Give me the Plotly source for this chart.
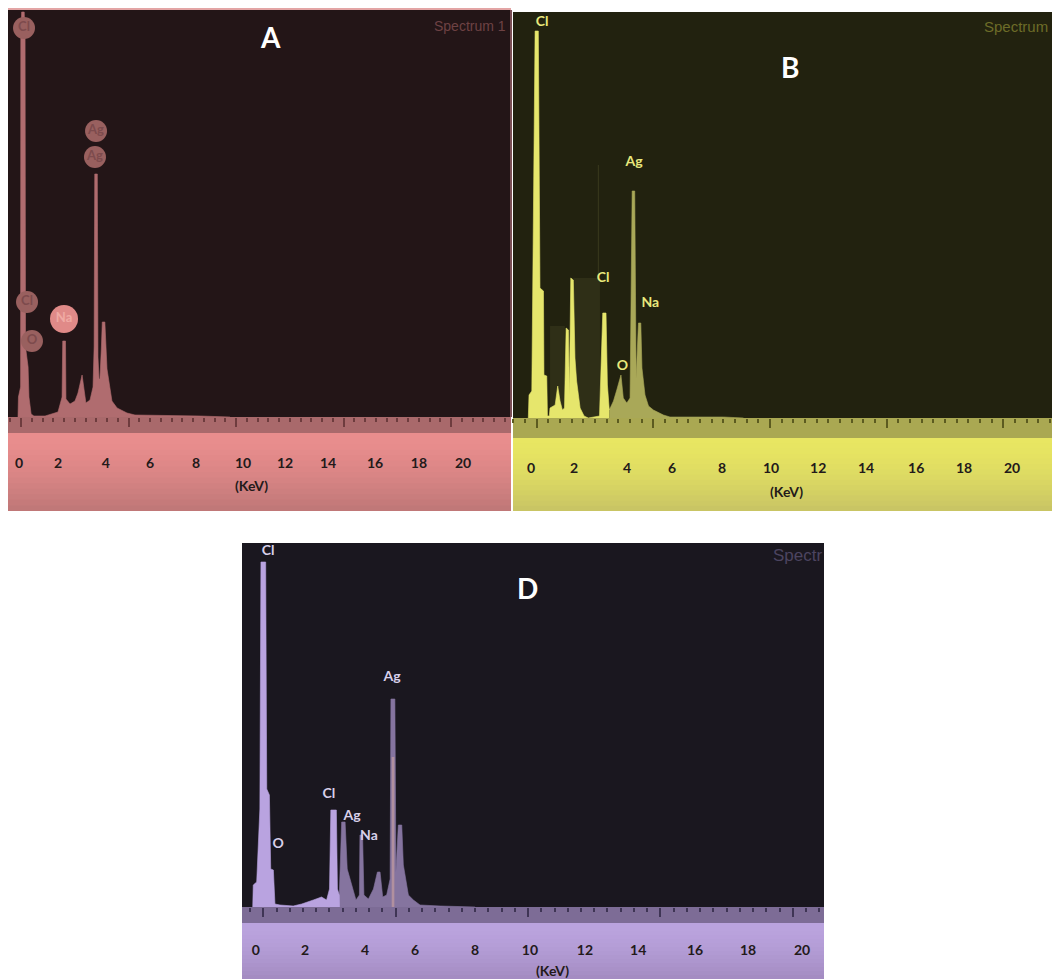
import plotly.graph_objects as go

W, H = 1052, 979

# ---------- data (x in keV, y = counts on an arbitrary scale) ----------
tick_text = ["0", "2", "4", "6", "8", "10", "12", "14", "16", "18", "20"]

a_x = [-0.14, -0.12, -0.02, -0.01, 0.03, 0.15, 0.19, 0.21, 0.33, 0.37, 0.47, 0.6, 1.12, 1.26, 1.72, 1.91,
       1.94, 2.07, 2.09, 2.28, 2.51, 2.65, 2.84, 2.98, 3.02, 3.21, 3.35, 3.40, 3.43, 3.55, 3.58, 3.63,
       3.67, 3.74, 3.78, 3.9, 4.0, 4.23, 4.47, 4.93, 5.3, 8.33, 9.72]
a_y = [0, 20, 30, 380, 405, 405, 380, 70, 50, 20, 3, 1, 1, 2, 5, 20,
       76, 76, 18, 13, 16, 24, 42, 20, 14, 17, 30, 70, 243, 243, 60, 38,
       38, 70, 95, 95, 48, 16, 9, 4, 2, 1, 0]
a_tick_pos = [-0.09, 1.72, 3.95, 6.0, 8.14, 10.33, 12.28, 14.28, 16.47, 18.51, 20.56]
a_lab_x = [0.14, 3.49, 3.44, 0.28, 0.51]
a_lab_y = [389, 286, 260, 115, 76]
a_lab_t = ["Cl", "Ag", "Ag", "Cl", "O"]
a_na_x = [2.0]
a_na_y = [98]
a_na_t = ["Na"]

b_x1 = [-0.36, -0.33, -0.21, -0.11, -0.07, 0.07, 0.14, 0.29, 0.31, 0.43, 0.46, 0.54, 0.57, 0.79, 0.9, 1.0,
        1.1, 1.19, 1.26, 1.36, 1.4, 1.46, 1.57, 1.64, 1.71, 1.86, 2.03, 2.21, 2.69, 2.83, 2.97, 3.03, 3.11]
b_y1 = [0, 23, 27, 317, 387, 387, 130, 127, 43, 42, 2, 2, 10, 13, 32, 17,
        8, 10, 90, 88, 23, 140, 138, 60, 37, 10, 2, 0, 2, 105, 105, 33, 8]
b_x2 = [3.11, 3.29, 3.43, 3.61, 3.71, 3.86, 4.0, 4.09, 4.2, 4.26, 4.36, 4.46, 4.51, 4.64, 4.79, 5.0,
        5.43, 5.71, 8.0, 8.86]
b_y2 = [8, 17, 28, 43, 20, 15, 20, 227, 227, 40, 95, 95, 50, 23, 12, 8, 3, 1, 1, 0]
b_ghost_x = [0.57, 0.57, 1.21, 1.21, 1.57, 1.57, 2.71, 2.71]
b_ghost_y = [0, 92, 92, 0, 0, 140, 140, 0]
b_faint_x = [2.64, 2.64]
b_faint_y = [140, 253]
b_tick_pos = [-0.24, 1.6, 3.87, 5.8, 7.94, 10.04, 12.06, 14.11, 16.26, 18.31, 20.37]
b_lab_x = [0.23, 4.17, 2.85, 4.87, 3.67]
b_lab_y = [396, 256, 140, 115, 52]
b_lab_t = ["Cl", "Ag", "Cl", "Na", "O"]

d_x1 = [-0.4, -0.38, -0.25, -0.13, -0.09, 0.09, 0.13, 0.23, 0.28, 0.38, 0.44, 0.63, 1.13, 1.45, 1.89, 2.2,
        2.39, 2.5, 2.55, 2.76, 2.8, 2.87, 2.88]
d_y1 = [0, 22, 25, 98, 345, 345, 118, 112, 38, 37, 3, 2, 1, 3, 7, 10,
        7, 18, 97, 97, 18, 12, 0]
d_x2 = [2.5, 2.87, 2.96, 3.09, 3.17, 3.34, 3.5, 3.63, 3.65, 3.75, 3.8, 3.97, 4.16, 4.31, 4.41, 4.51, 4.66,
        4.79, 4.82, 4.97, 5.01, 5.1, 5.23, 5.29, 5.48, 5.67, 5.92, 6.68, 8.0]
d_y2 = [0, 12, 85, 85, 38, 22, 7, 12, 72, 72, 12, 8, 18, 35, 35, 10, 12,
        28, 208, 208, 35, 82, 82, 42, 12, 7, 2, 1, 0]
d_core_x = [4.85, 4.95]
d_core_y = [150, 150]
d_tick_pos = [-0.28, 1.58, 3.84, 5.73, 8.0, 10.07, 12.15, 14.16, 16.31, 18.31, 20.35]
d_lab_x = [0.18, 2.48, 3.35, 3.99, 0.56, 4.86]
d_lab_y = [356, 113, 91, 71, 63, 230]
d_lab_t = ["Cl", "Cl", "Ag", "Na", "O", "Ag"]

LABEL_FONT = "Lato"
fig = go.Figure()


def hx(p):
    return p / W


def hy(p):
    return 1 - p / H


def rect(x0, y0, x1, y1, color):
    return dict(type="rect", xref="paper", yref="paper", x0=hx(x0), x1=hx(x1), y0=hy(y1), y1=hy(y0),
                fillcolor=color, line_width=0, layer="below")


def mix(c0, c1, t):
    return "rgb(%d,%d,%d)" % tuple(round(a + (b - a) * t) for a, b in zip(c0, c1))


panels = [
    dict(box=(8, 10, 511, 417, 433, 511), dark="#231517", band="#a9696b", top=(233, 141, 141), bot=(192, 120, 120),
         rng=(-0.605, 22.79), yr=407, tick_pos=a_tick_pos, tick="#6e3c3e", ov="x4", ticklen=33),
    dict(box=(513, 12, 1052, 418, 438, 511), dark="#22220f", band="#aaa852", top=(232, 230, 98), bot=(201, 197, 100),
         rng=(-1.016, 22.08), yr=406, tick_pos=b_tick_pos, tick="#5c5b20", ov="x5", ticklen=37),
    dict(box=(242, 543, 824, 907, 923, 979), dark="#1a171f", band="#7d6c96", top=(186, 163, 222), bot=(164, 140, 194),
         rng=(-0.805, 21.18), yr=364, tick_pos=d_tick_pos, tick="#3f3555", ov="x6", ticklen=30),
]

shapes = []
for p in panels:
    x0, y0, x1, yb, yc, ye = p["box"]
    shapes.append(rect(x0, y0, x1, yb, p["dark"]))
    shapes.append(rect(x0, yb, x1, yc, p["band"]))
    n = 14
    # each strip runs to the panel's bottom and is overpainted by the next, so no seams show
    for i in range(n):
        s0 = yc + (ye - yc) * i / n
        shapes.append(rect(x0, s0, x1, ye, mix(p["top"], p["bot"], (i / (n - 1)) ** 1.5)))
shapes.append(rect(8, 8, 511, 10, "#e3a5a5"))
shapes.append(rect(510, 10, 512, 417, "#7a4f55"))


def area(x, y, color, ax):
    fig.add_trace(go.Scatter(x=x, y=y, mode="lines", fill="tozeroy", fillcolor=color,
                             line=dict(color=color, width=0.6), xaxis=ax[0], yaxis=ax[1],
                             hoverinfo="skip", showlegend=False))


def labels(x, y, t, color, ax, size=13, marker=None, msize=22):
    mode = "text" if marker is None else "markers+text"
    kw = {}
    if marker is not None:
        kw["marker"] = dict(color=marker, size=msize, line=dict(width=0))
    fig.add_trace(go.Scatter(x=x, y=y, text=t, mode=mode, textposition="middle center",
                             textfont=dict(family=LABEL_FONT, size=size, color=color, weight="bold"),
                             xaxis=ax[0], yaxis=ax[1], cliponaxis=False, hoverinfo="skip", showlegend=False, **kw))


# panel A
area(a_x, a_y, "#b06c6f", ("x", "y"))
labels(a_lab_x, a_lab_y, a_lab_t, "#7d4b4d", ("x", "y"), marker="#99605f", msize=22)
labels(a_na_x, a_na_y, a_na_t, "#f0aaa4", ("x", "y"), marker="#e08a88", msize=28)

# panel B
fig.add_trace(go.Scatter(x=b_ghost_x, y=b_ghost_y, mode="lines", fill="tozeroy", fillcolor="#2f2f17",
                         line=dict(color="#2f2f17", width=0), xaxis="x2", yaxis="y2", hoverinfo="skip",
                         showlegend=False))
fig.add_trace(go.Scatter(x=b_faint_x, y=b_faint_y, mode="lines", line=dict(color="#3a3a1e", width=1),
                         xaxis="x2", yaxis="y2", hoverinfo="skip", showlegend=False))
area(b_x2, b_y2, "#a9a858", ("x2", "y2"))
area(b_x1, b_y1, "#e6e66c", ("x2", "y2"))
labels(b_lab_x, b_lab_y, b_lab_t, "#e8e87c", ("x2", "y2"), size=14)

# panel D
area(d_x2, d_y2, "#85749f", ("x3", "y3"))
area(d_x1, d_y1, "#b9a3e0", ("x3", "y3"))
fig.add_trace(go.Scatter(x=d_core_x, y=d_core_y, mode="lines", fill="tozeroy", fillcolor="#b1909f",
                         line=dict(color="#b1909f", width=0), xaxis="x3", yaxis="y3", hoverinfo="skip",
                         showlegend=False))
labels(d_lab_x, d_lab_y, d_lab_t, "#d8d0ea", ("x3", "y3"), size=14)

layout = dict(width=W, height=H, margin=dict(l=0, r=0, t=0, b=0), paper_bgcolor="white",
              plot_bgcolor="rgba(0,0,0,0)", showlegend=False, shapes=shapes)

for i, p in enumerate(panels):
    suf = "" if i == 0 else str(i + 1)
    x0, y0, x1, yb, yc, ye = p["box"]
    dom_x = [hx(x0), hx(x1)]
    dom_y = [hy(yb), hy(y0)]
    layout["xaxis" + suf] = dict(domain=dom_x, range=list(p["rng"]), anchor="y" + suf, showgrid=False, zeroline=False,
                                 showline=False, tickmode="array", tickvals=p["tick_pos"], ticktext=tick_text,
                                 ticks="outside", ticklen=p["ticklen"], tickcolor="rgba(0,0,0,0)",
                                 tickangle=0, tickfont=dict(family=LABEL_FONT, size=14, color="#231a1a", weight="bold"),
                                 fixedrange=True)
    layout["yaxis" + suf] = dict(domain=dom_y, range=[0, p["yr"]], anchor="x" + suf, visible=False, fixedrange=True)
    ov = p["ov"]
    layout["xaxis" + ov[1:]] = dict(domain=dom_x, range=list(p["rng"]), anchor="y" + suf, overlaying="x" + suf,
                                    side="bottom", showgrid=False, zeroline=False, showline=False, tick0=0, dtick=5,
                                    ticks="outside", ticklen=9, tickcolor=p["tick"], tickwidth=2,
                                    showticklabels=False,
                                    minor=dict(tick0=0, dtick=0.5, ticks="outside", ticklen=4, tickcolor=p["tick"],
                                               tickwidth=1.5),
                                    fixedrange=True)
    fig.add_trace(go.Scatter(x=[0], y=[0], mode="markers", marker=dict(size=1, opacity=0), xaxis=ov,
                             yaxis="y" + suf, hoverinfo="skip", showlegend=False))

fig.update_layout(**layout)


def note(px, py, text, size, color, family, weight="normal"):
    fig.add_annotation(xref="paper", yref="paper", x=hx(px), y=hy(py), text=text, showarrow=False,
                       xanchor="center", yanchor="middle",
                       font=dict(size=size, color=color, family=family, weight=weight))


note(270, 37, "A", 28, "white", LABEL_FONT, "bold")
note(790, 67, "B", 28, "white", LABEL_FONT, "bold")
note(527, 588, "D", 28, "white", LABEL_FONT, "bold")
note(470, 26, "Spectrum 1", 14, "#6e4244", "Liberation Sans")
note(1016, 27, "Spectrum", 15, "#6d6c28", "Liberation Sans")
note(797, 555, "Spectr", 17, "#4c4460", "Liberation Sans")
note(251, 485, "(KeV)", 14, "#231a1a", LABEL_FONT, "bold")
note(786, 491, "(KeV)", 14, "#231a1a", LABEL_FONT, "bold")
note(552, 970, "(KeV)", 14, "#231a1a", LABEL_FONT, "bold")

# The figure is laid out for the full page, so the default body margin is removed.
fig.write_html("out.html", config=dict(displayModeBar=False),
               post_script="document.body.style.margin='0';")
